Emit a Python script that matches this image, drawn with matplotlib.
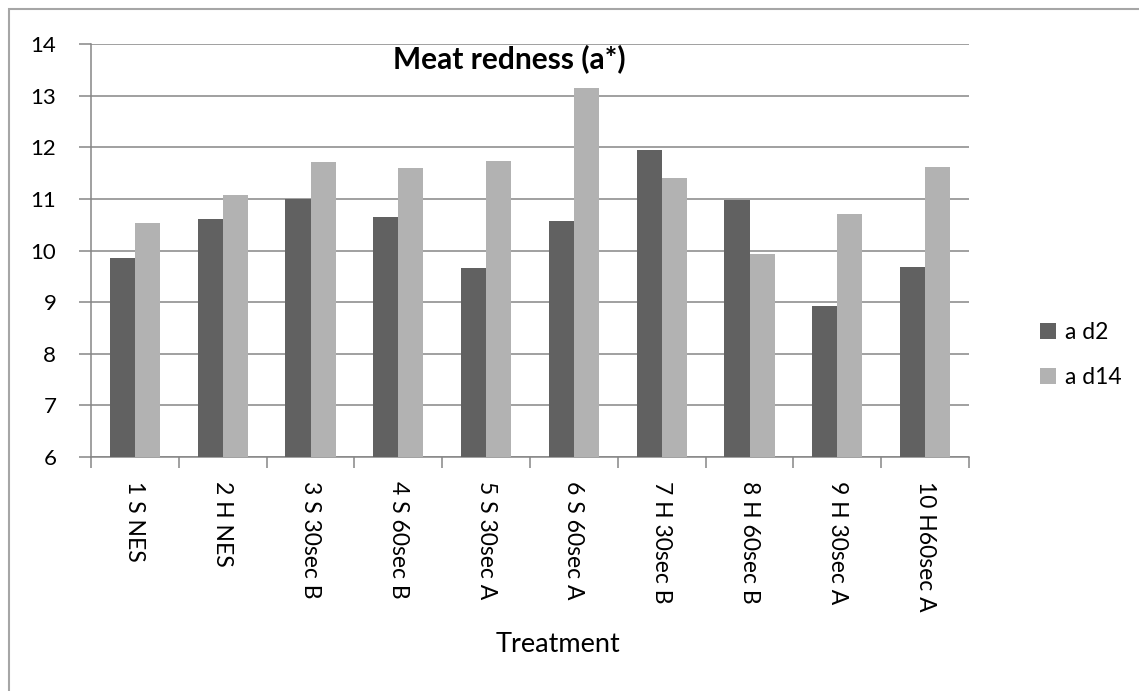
import matplotlib
matplotlib.use("Agg")
import matplotlib.pyplot as plt
import numpy as np
from matplotlib.patches import Rectangle

plt.rcParams['font.family'] = ['Lato', 'DejaVu Sans']

treatments = ["1 S NES", "2 H NES", "3 S 30sec B", "4 S 60sec B", "5 S 30sec A",
              "6 S 60sec A", "7 H 30sec B", "8 H 60sec B", "9 H 30sec A", "10 H60sec A"]
a_d2 = [9.86, 10.61, 11.00, 10.65, 9.66, 10.58, 11.95, 10.98, 8.92, 9.68]
a_d14 = [10.54, 11.08, 11.72, 11.60, 11.73, 13.15, 11.40, 9.94, 10.72, 11.62]
series_names = ["a d2", "a d14"]
y_ticks = [6, 7, 8, 9, 10, 11, 12, 13, 14]

W, H = 1139, 691
fig = plt.figure(figsize=(W / 100, H / 100), dpi=100)

# chart frame
fig.patches.append(Rectangle((9 / W, -0.01), 1.05, 1 - 9 / H + 0.01, transform=fig.transFigure,
                             fill=False, edgecolor="#a6a6a6", linewidth=1.5))

ax = fig.add_axes([91 / W, 1 - 457 / H, (969 - 91) / W, (457 - 44.3) / H])

x = np.arange(len(treatments))
bw = 0.285
ax.bar(x - bw / 2, np.array(a_d2) - 6, bw, bottom=6, color="#616161", label=series_names[0], zorder=3)
ax.bar(x + bw / 2, np.array(a_d14) - 6, bw, bottom=6, color="#b2b2b2", label=series_names[1], zorder=3)

ax.set_xlim(-0.5, len(treatments) - 0.5)
ax.set_ylim(6, 14)
ax.set_yticks(y_ticks)
ax.yaxis.grid(True, color="#868686", linewidth=1.1, zorder=0)
ax.set_axisbelow(True)

for s in ["top", "right"]:
    ax.spines[s].set_visible(False)
for s in ["left", "bottom"]:
    ax.spines[s].set_color("#868686")
    ax.spines[s].set_linewidth(1.1)

ax.tick_params(axis="y", length=9, width=1.1, color="#868686", pad=16, labelsize=16)
ax.set_xticks(x)
ax.set_xticklabels(treatments, rotation=270, fontsize=16.5, va="top", ha="center")
ax.tick_params(axis="x", which="major", length=0, pad=17)
ax.set_xticks(np.arange(-0.5, len(treatments) + 0.5, 1), minor=True)
ax.tick_params(axis="x", which="minor", length=8, width=1.1, color="#868686")

fig.text(509 / W, 1 - 59 / H, "Meat redness (a*)", ha="center", va="center",
         fontsize=21.5, fontweight="bold")
fig.text(558 / W, 1 - 645 / H, "Treatment", ha="center", va="center", fontsize=19.5)

leg = ax.legend(loc="center left", bbox_to_anchor=(1040 / W, 1 - 355 / H),
                bbox_transform=fig.transFigure, frameon=False, fontsize=16.5,
                handlelength=0.68, handleheight=0.68, handletextpad=0.4,
                labelspacing=1.05, borderaxespad=0, borderpad=0)

fig.savefig("out.png", dpi=100)
